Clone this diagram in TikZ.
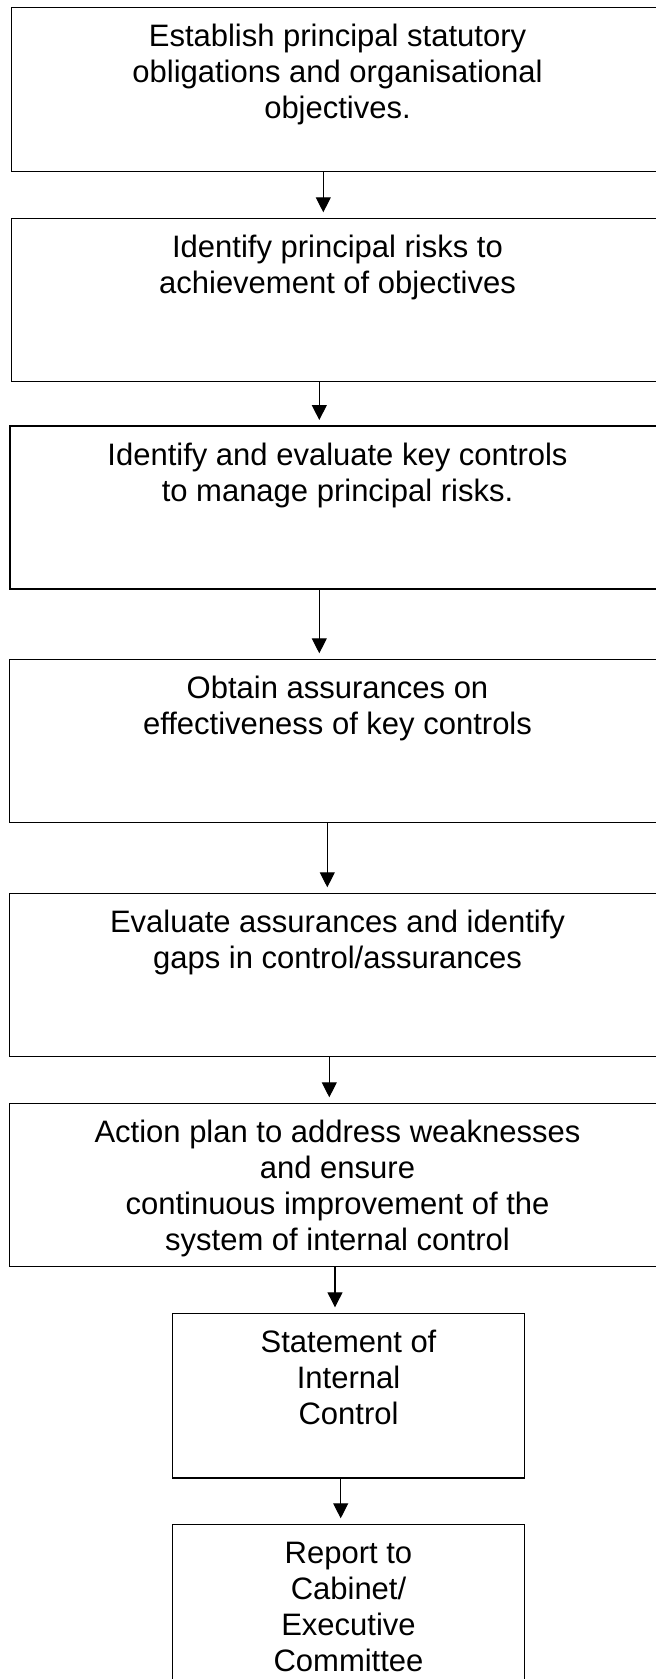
\documentclass[tikz,border=0pt]{standalone}
\usepackage{fontspec}
\setmainfont{Liberation Sans}
\usetikzlibrary{arrows.meta}
\tikzset{
  box/.style={draw, line width=1.2pt, inner sep=0pt, outer sep=0pt, anchor=north west},
  label/.style={anchor=north, inner sep=0pt, align=center, font=\fontsize{31}{35.8}\selectfont},
  arr/.style={line width=1.1pt, -{Triangle[length=15pt, width=15pt]}, shorten >=6pt}
}
\newcommand{\topstrut}{\rule{0pt}{25pt}}
\begin{document}
\begin{tikzpicture}[x=1pt, y=1pt]
\useasboundingbox (0,0) rectangle (656,-1679);
\clip (0,0) rectangle (656,-1679);
\fill[white] (0,0) rectangle (656,-1679);
% boxes
\node[box, minimum width=651.6pt, minimum height=164.4pt] (b1) at (11.7,-7.3) {};
\node[box, minimum width=651.6pt, minimum height=163.4pt] (b2) at (11.7,-218.3) {};
\node[box, minimum width=655pt, minimum height=163pt] (b3) at (10,-426) {};
\node[box, minimum width=656.4pt, minimum height=163.4pt] (b4) at (9.3,-659.3) {};
\node[box, minimum width=656.4pt, minimum height=163.4pt] (b5) at (9.3,-893.3) {};
\node[box, minimum width=656.4pt, minimum height=163.4pt] (b6) at (9.3,-1103.3) {};
\node[box, minimum width=351.6pt, minimum height=164.7pt] (b7) at (172.7,-1313.3) {};
\node[box, minimum width=351.6pt, minimum height=180pt] (b8) at (172.7,-1524.3) {};
% texts
\node[label] (t1) at ([yshift=-14.4pt]b1.north) {\topstrut Establish principal statutory\\obligations and organisational\\objectives.};
\node[label] (t2) at ([yshift=-14.4pt]b2.north) {\topstrut Identify principal risks to\\achievement of objectives};
\node[label] (t3) at ([yshift=-14.4pt]b3.north) {\topstrut Identify and evaluate key controls\\to manage principal risks.};
\node[label] (t4) at ([yshift=-14.4pt]b4.north) {\topstrut Obtain assurances on\\effectiveness of key controls};
\node[label] (t5) at ([yshift=-14.4pt]b5.north) {\topstrut Evaluate assurances and identify\\gaps in control/assurances};
\node[label] (t6) at ([yshift=-14.4pt]b6.north) {\topstrut Action plan to address weaknesses\\and ensure\\continuous improvement of the\\system of internal control};
\node[label] (t7) at ([yshift=-14.4pt]b7.north) {\topstrut Statement of\\Internal\\Control};
\node[label] (t8) at ([yshift=-14.4pt]b8.north) {\topstrut Report to\\Cabinet/\\Executive\\Committee};
% arrow columns
\coordinate (x1) at (323.3,0);
\coordinate (x2) at (319.3,0);
\coordinate (x3) at (319.3,0);
\coordinate (x4) at (327.3,0);
\coordinate (x5) at (329.3,0);
\coordinate (x6) at (335,0);
\coordinate (x7) at (340.7,0);
\draw[arr] (b1.south -| x1) -- (b2.north -| x1);
\draw[arr] (b2.south -| x2) -- (b3.north -| x2);
\draw[arr] (b3.south -| x3) -- (b4.north -| x3);
\draw[arr] (b4.south -| x4) -- (b5.north -| x4);
\draw[arr] (b5.south -| x5) -- (b6.north -| x5);
\draw[arr] (b6.south -| x6) -- (b7.north -| x6);
\draw[arr] (b7.south -| x7) -- (b8.north -| x7);
\end{tikzpicture}
\end{document}
